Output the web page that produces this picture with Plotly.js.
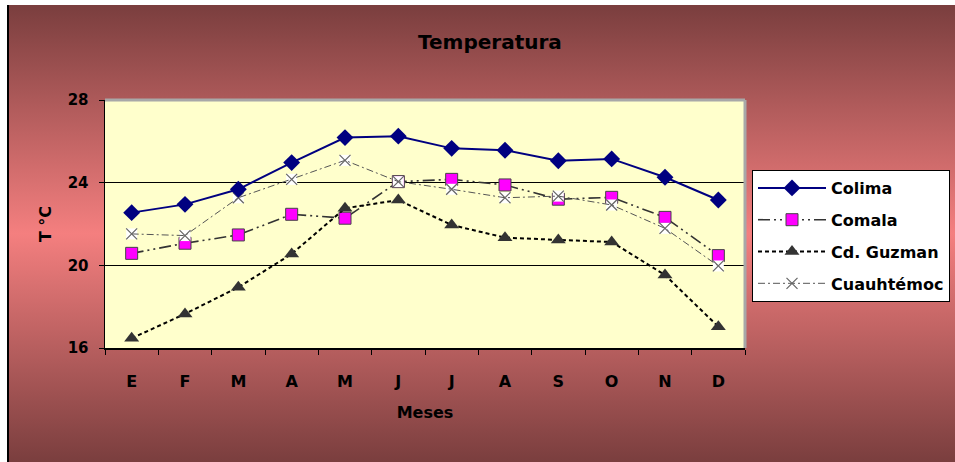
<!DOCTYPE html>
<html>
<head>
<meta charset="utf-8">
<script src="https://cdn.plot.ly/plotly-3.0.1.min.js"></script>
<style>
  html, body { margin:0; padding:0; background:#ffffff; }
  #wrap { position:relative; width:955px; height:462px; background:#ffffff; overflow:hidden; }
  #bg { position:absolute; left:7px; top:5px; width:948px; height:457px;
        border-left:2px solid #000;
        background:linear-gradient(to bottom, #7a3e3e 0%, #f47f7f 50%, #7a3e3e 100%); }
  #chart { position:absolute; left:0; top:0; width:955px; height:462px; }
</style>
</head>
<body>
<div id="wrap"><div id="bg"></div><div id="chart"></div></div>
<script>
const months = ["E","F","M","A","M ","J","J ","A ","S","O","N","D"];
const colima     = [22.55, 22.95, 23.68, 24.97, 26.18, 26.25, 25.66, 25.57, 25.06, 25.15, 24.26, 23.16];
const comala     = [20.58, 21.07, 21.47, 22.47, 22.28, 24.05, 24.16, 23.89, 23.20, 23.29, 22.32, 20.47];
const guzman     = [16.47, 17.65, 18.94, 20.55, 22.76, 23.16, 21.95, 21.34, 21.23, 21.13, 19.53, 17.03];
const cuauhtemoc = [21.52, 21.44, 23.27, 24.16, 25.08, 24.05, 23.68, 23.27, 23.35, 22.92, 21.79, 19.97];
const seriesNames = ["Colima", "Comala", "Cd. Guzman", "Cuauhtémoc"];
const yTicks = [16, 20, 24, 28];

const FONT = "DejaVu Sans, Liberation Sans, Arial, sans-serif";

const traces = [
  { x: months, y: comala, name: seriesNames[1], type: "scatter", mode: "lines+markers",
    legendgroup: "b", legendrank: 2,
    line: { color: "#333333", width: 1.6, dash: "12px,4px,2px,4px,2px,4px" },
    marker: { symbol: "square", size: 12, color: "#ff00ff", line: { color: "#444444", width: 1 } } },
  { x: months, y: guzman, name: seriesNames[2], type: "scatter", mode: "lines+markers",
    legendgroup: "c", legendrank: 3,
    line: { color: "#000000", width: 2, dash: "4px,3px" },
    marker: { symbol: "triangle-up", size: 13, color: "#333333" } },
  { x: months, y: cuauhtemoc, name: seriesNames[3], type: "scatter", mode: "markers",
    legendgroup: "d", showlegend: false, hoverinfo: "skip",
    marker: { symbol: "square", size: 11, color: "#ffffff", line: { width: 0 } } },
  { x: months, y: cuauhtemoc, name: seriesNames[3], type: "scatter", mode: "lines+markers",
    legendgroup: "d", legendrank: 4,
    line: { color: "#555555", width: 1, dash: "7px,3px,2px,3px" },
    marker: { symbol: "x-thin", size: 11, color: "#666666", line: { color: "#666666", width: 1.2 } } },
  { x: months, y: colima, name: seriesNames[0], type: "scatter", mode: "lines+markers",
    legendgroup: "a", legendrank: 1,
    line: { color: "#000080", width: 2 },
    marker: { symbol: "diamond", size: 13, color: "#000080" } }
];

const layout = {
  width: 955, height: 462,
  paper_bgcolor: "rgba(0,0,0,0)",
  plot_bgcolor: "#ffffcc",
  margin: { l: 105, r: 210, t: 100, b: 114, pad: 0 },
  font: { family: FONT, color: "#000000" },
  title: { text: "<b>Temperatura</b>", font: { size: 20, family: FONT, color: "#000" },
           xref: "container", x: 0.513, xanchor: "center", yref: "container", y: 0.909, yanchor: "middle" },
  xaxis: {
    type: "category", tickvals: months, ticktext: months.map(m => "<b>" + m.trim() + "</b>"),
    range: [-0.5, 11.5], autorange: false,
    tickson: "boundaries", ticks: "outside", ticklen: 5, tickcolor: "#000", tickwidth: 1,
    showline: true, linecolor: "#000", linewidth: 1.5, showgrid: false, zeroline: false,
    tickfont: { size: 16 }, ticklabelstandoff: 18,
    title: { text: "<b>Meses</b>", font: { size: 16 }, standoff: 17 },
    fixedrange: true
  },
  yaxis: {
    range: [16, 28], autorange: false, tickvals: yTicks, ticktext: yTicks.map(v => "<b>" + v + "</b>"),
    ticks: "outside", ticklen: 5, tickcolor: "#000", tickwidth: 1,
    showline: true, linecolor: "#000", linewidth: 1.5,
    showgrid: true, gridcolor: "#000000", gridwidth: 1.3, zeroline: false,
    tickfont: { size: 15 }, ticklabelstandoff: 7,
    title: { text: "<b>T °C</b>", font: { size: 16 }, standoff: 12 },
    fixedrange: true
  },
  legend: {
    xref: "container", yref: "container", x: 752/955, y: 1 - 170/462, xanchor: "left", yanchor: "top",
    bgcolor: "#ffffff", bordercolor: "#000000", borderwidth: 1,
    font: { size: 16, family: FONT, weight: "bold", color: "#000" },
    tracegroupgap: 8, itemwidth: 68
  },
  shapes: [
    { type: "line", xref: "paper", yref: "paper", x0: 0, x1: 1, y0: 1, y1: 1, line: { color: "#a8a8a8", width: 3 }, layer: "above" },
    { type: "line", xref: "paper", yref: "paper", x0: 1, x1: 1, y0: 0, y1: 1, line: { color: "#a8a8a8", width: 3 }, layer: "above" }
  ],
  showlegend: true
};

Plotly.newPlot("chart", traces, layout, { displayModeBar: false, staticPlot: true });
</script>
</body>
</html>
